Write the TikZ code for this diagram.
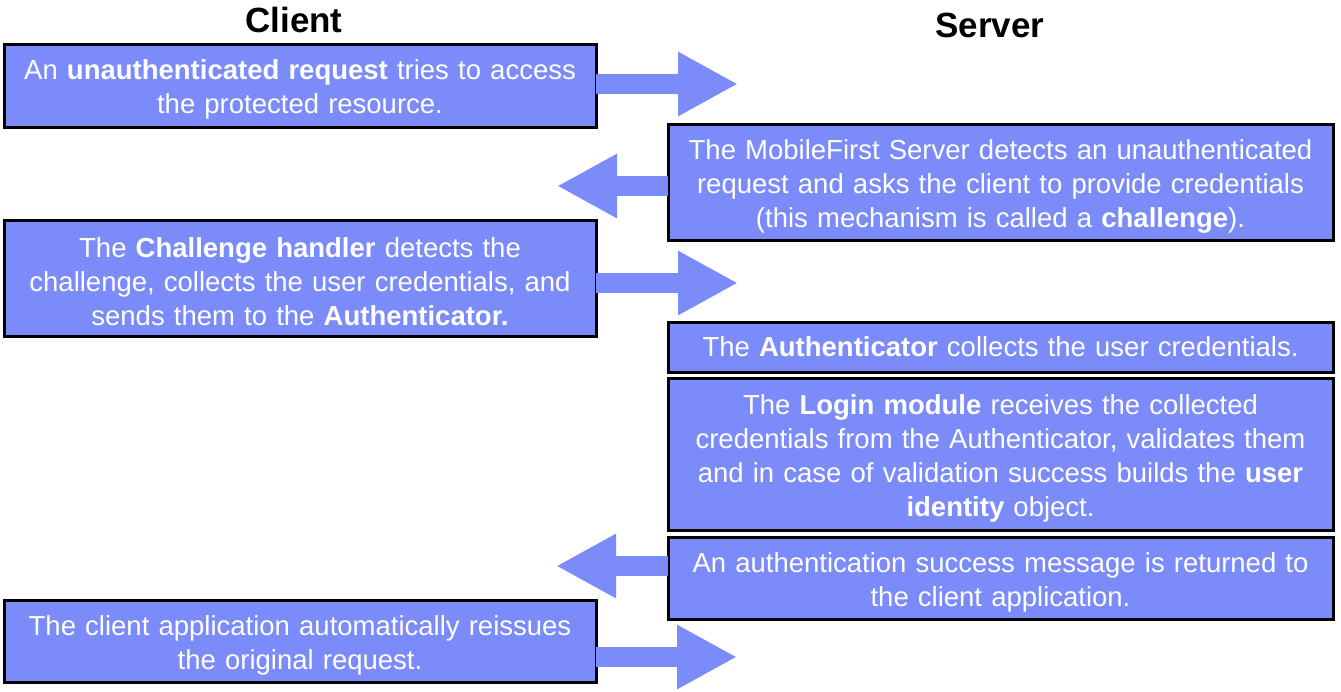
\documentclass[tikz,border=0pt]{standalone}
\usepackage{fontspec}
\setmainfont{Liberation Sans}
\usetikzlibrary{arrows.meta}
\definecolor{boxblue}{RGB}{123,139,250}
\tikzset{
  box/.style={draw=black, line width=3pt, fill=boxblue, text=white, align=center,
    inner sep=0pt, outer sep=0pt, font=\fontsize{27.5}{34}\selectfont,
    execute at end node={\par\vspace*{-8pt}}},
  cbox/.style={box, minimum width=592pt, text width=586pt},
  sbox/.style={box, minimum width=665pt, text width=660pt},
  flow/.style={draw=boxblue, line width=20pt,
    -{Triangle[length=60pt 0 0, width=60pt 0 0]}},
  title/.style={font=\fontsize{35}{40}\selectfont\bfseries, text=black, inner sep=0pt}
}
\begin{document}
\begin{tikzpicture}[x=1pt,y=1pt]
\useasboundingbox[fill=white] (0,0) rectangle (1341,-691);
\node[title] (client) at (294,-20) {Client};
\node[title] (server) at (990,-25) {Server};

\node[cbox, minimum height=83pt] (b1) at (300,-85.5)
  {An \textbf{unauthenticated request} tries to access\\the protected resource.};
\node[sbox, minimum height=116pt] (b2) at (1000.5,-182)
  {The MobileFirst Server detects an unauthenticated\\request and asks the client to provide credentials\\(this mechanism is called a \textbf{challenge}).};
\node[cbox, minimum height=116pt] (b3) at (300,-278)
  {The \textbf{Challenge handler} detects the\\challenge, collects the user credentials, and\\sends them to the \textbf{Authenticator.}};
\node[sbox, minimum height=50pt] (b4) at (1000.5,-347)
  {The \textbf{Authenticator} collects the user credentials.};
\node[sbox, minimum height=152pt] (b5) at (1000.5,-454)
  {The \textbf{Login module} receives the collected\\credentials from the Authenticator, validates them\\and in case of validation success builds the \textbf{user}\\\textbf{identity} object.};
\node[sbox, minimum height=82pt] (b6) at (1000.5,-578)
  {An authentication success message is returned to\\the client application.};
\node[cbox, minimum height=82pt] (b7) at (300,-641)
  {The client application automatically reissues\\the original request.};

\coordinate (t1) at (738,-84);
\coordinate (t2) at (557,-186);
\coordinate (t3) at (738,-283);
\coordinate (t6) at (556,-566);
\coordinate (t7) at (737,-657);

\draw[flow] (b1.east |- t1) -- (t1);
\draw[flow] (b2.west |- t2) -- (t2);
\draw[flow] (b3.east |- t3) -- (t3);
\draw[flow] (b6.west |- t6) -- (t6);
\draw[flow] (b7.east |- t7) -- (t7);
\end{tikzpicture}
\end{document}
